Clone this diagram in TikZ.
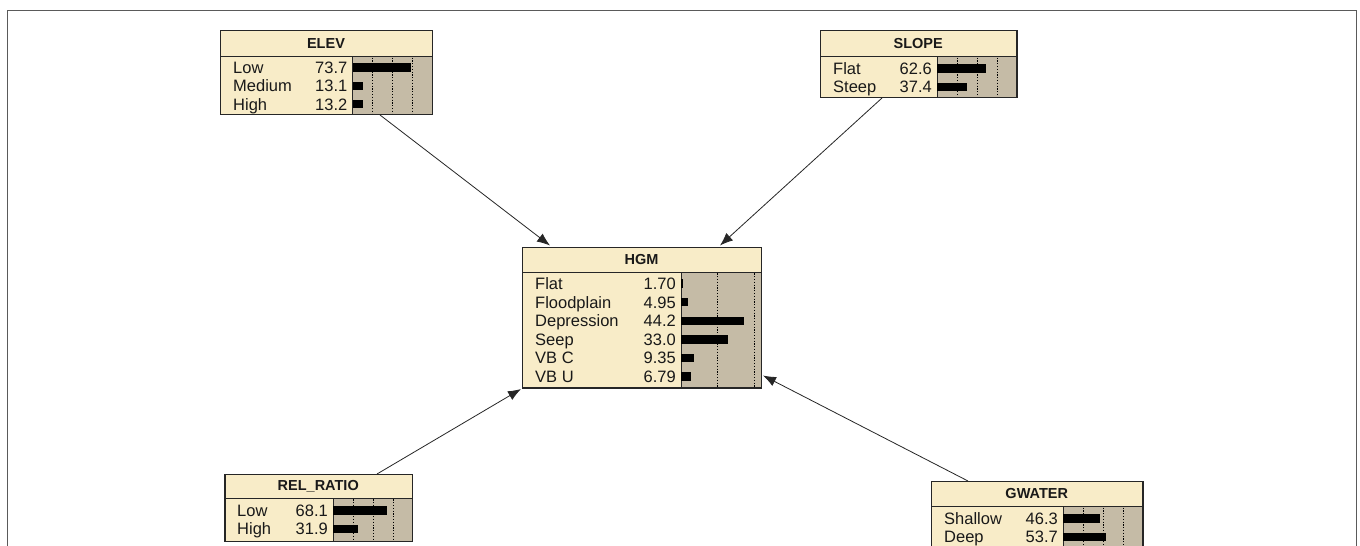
\documentclass[tikz,border=0pt]{standalone}
\usepackage{fontspec}
\setmainfont{Liberation Sans}
\usetikzlibrary{arrows.meta,calc}
\definecolor{cream}{RGB}{248,236,200}
\definecolor{bargray}{RGB}{197,187,166}
\definecolor{framegray}{RGB}{90,90,90}
\tikzset{
  boxframe/.style={draw=black!85,line width=1pt,fill=cream},
  graypart/.style={fill=bargray},
  dotline/.style={draw=black,line width=0.9pt,dash pattern=on 1.2pt off 1.6pt},
  lab/.style={inner sep=0pt,font=\fontsize{16.5}{17}\selectfont,text=black!90},
  ttl/.style={inner sep=0pt,font=\fontsize{14.5}{15}\selectfont\bfseries,text=black!90},
  link/.style={draw=black!85,line width=0.8pt,-{Latex[length=13pt,width=10pt]}}
}
% #1 left x, #2 divider x, #3 center y, #4 label, #5 value, #6 bar length
\newcommand\bnrow[6]{%
  \node[lab,anchor=base west] at (#1,#3+5.9) {#4};
  \node[lab,anchor=base east] at (#2-5,#3+5.9) {#5};
  \fill[black] (#2,#3-4.2) rectangle (#2+#6,#3+4.2);
}
% #1 name, #2 left, #3 top, #4 right, #5 bottom, #6 title-line y, #7 divider x, #8 title
\newcommand\bnbox[8]{%
  \node[boxframe,minimum width=#4-#2,minimum height=#5-#3,inner sep=0pt,anchor=north west] (#1) at (#2,#3) {};
  \fill[graypart] (#7,#6) rectangle (#4,#5);
  \draw[black!85,line width=1pt] (#2,#3) rectangle (#4,#5);
  \draw[black!85,line width=1pt] (#2,#6) -- (#4,#6);
  \draw[black!85,line width=1pt] (#7,#6) -- (#7,#5);
  \node[ttl] (#1-title) at ({(#2+#4)/2},{(#3+#6)/2}) {#8};
}
\begin{document}
\begin{tikzpicture}[x=1pt,y=-1pt]
\useasboundingbox (0,0) rectangle (1360,546);
\clip (0,0) rectangle (1360,546);
\fill[white] (0,0) rectangle (1360,546);
% outer frame
\draw[framegray,line width=1pt] (7.5,560) -- (7.5,10.5) -- (1356,10.5) -- (1356,560);

% ELEV
\bnbox{elev}{220}{30}{432}{114}{56.7}{352.5}{ELEV}
\foreach \d in {20,40,60} \draw[dotline] (352.5+\d,57.5) -- (352.5+\d,113.5);
\bnrow{233}{352.5}{67.5}{Low}{73.7}{58}
\bnrow{233}{352.5}{85.8}{Medium}{13.1}{10.3}
\bnrow{233}{352.5}{104.1}{High}{13.2}{10.4}

% SLOPE
\bnbox{slope}{820}{30}{1016.5}{97}{56.7}{937}{SLOPE}
\foreach \d in {20,40,60} \draw[dotline] (937+\d,57.5) -- (937+\d,96.5);
\bnrow{833}{937}{68.3}{Flat}{62.6}{49}
\bnrow{833}{937}{86.8}{Steep}{37.4}{29.5}

% HGM
\bnbox{hgm}{522}{247}{761}{387.5}{272.5}{681}{HGM}
\foreach \d in {36.5,73} \draw[dotline] (681+\d,273.3) -- (681+\d,387);
\bnrow{535}{681}{283.5}{Flat}{1.70}{2.4}
\bnrow{535}{681}{302.1}{Floodplain}{4.95}{7}
\bnrow{535}{681}{320.7}{Depression}{44.2}{63}
\bnrow{535}{681}{339.3}{Seep}{33.0}{47}
\bnrow{535}{681}{357.9}{VB C}{9.35}{13.3}
\bnrow{535}{681}{376.5}{VB U}{6.79}{9.7}

% REL_RATIO
\bnbox{rel}{224.5}{474}{412}{541}{498.5}{333}{REL\_RATIO}
\foreach \d in {20,40,60} \draw[dotline] (333+\d,499.3) -- (333+\d,540.5);
\bnrow{237}{333}{510.5}{Low}{68.1}{53.5}
\bnrow{237}{333}{528.8}{High}{31.9}{25}

% GWATER
\bnbox{gwater}{931}{481}{1142.5}{560}{506.7}{1063}{GWATER}
\foreach \d in {20,40,60} \draw[dotline] (1063+\d,507.5) -- (1063+\d,559);
\bnrow{944}{1063}{518.5}{Shallow}{46.3}{36.5}
\bnrow{944}{1063}{537}{Deep}{53.7}{42.5}

% connectors
\draw[link] ($(elev.south west)+(160,0)$) -- ($(hgm.north west)+(28,-1.5)$);
\draw[link] ($(slope.south west)+(62,0)$) -- ($(hgm.north west)+(198,-1.5)$);
\draw[link] ($(rel.north west)+(152.5,0)$) -- ($(hgm.south west)+(-1,0.5)$);
\draw[link] ($(gwater.north west)+(37,0)$) -- ($(hgm.south east)+(1,-13)$);
\end{tikzpicture}
\end{document}
